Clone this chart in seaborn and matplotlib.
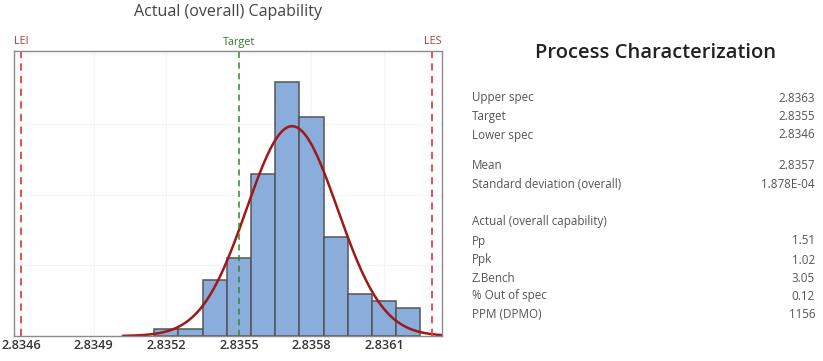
import matplotlib
matplotlib.use("Agg")
import matplotlib.pyplot as plt
import numpy as np
import pandas as pd
import seaborn as sns

# histogram (bin edges every 0.0001)
bin_edges = [2.83515, 2.83525, 2.83535, 2.83545, 2.83555, 2.83565,
             2.83575, 2.83585, 2.83595, 2.83605, 2.83615, 2.83625]
bin_counts = [1, 1, 8, 11, 23, 36, 31, 14, 6, 5, 4]

lsl = 2.8346
target = 2.8355
usl = 2.8363
fit_mean = 2.83572
fit_sd = 1.878e-4
curve_range = (2.83502, 2.83634)

x_ticks = [2.8346, 2.8349, 2.8352, 2.8355, 2.8358, 2.8361]
x_tick_labels = ["2.8346", "2.8349", "2.8352", "2.8355", "2.8358", "2.8361"]

stat_labels = ["Upper spec", "Target", "Lower spec",
               "Mean", "Standard deviation (overall)",
               "Actual (overall capability)", "Pp", "Ppk", "Z.Bench",
               "% Out of spec", "PPM (DPMO)"]
stat_values = ["2.8363", "2.8355", "2.8346",
               "2.8357", "1.878E-04",
               "", "1.51", "1.02", "3.05", "0.12", "1156"]

W, H = 823, 361

sns.set_theme(style="white")
plt.rcParams["font.family"] = ["Open Sans", "DejaVu Sans"]

fig = plt.figure(figsize=(W / 100, H / 100), dpi=100)
ax = fig.add_axes([14 / W, 25 / H, 428 / W, 285 / H])

centers = [(a + b) / 2 for a, b in zip(bin_edges[:-1], bin_edges[1:])]
hist_df = pd.DataFrame({"value": centers, "count": bin_counts})
sns.histplot(data=hist_df, x="value", weights="count", bins=bin_edges,
             color="#84a9db", alpha=0.95, edgecolor="#555555", linewidth=1.1, ax=ax)

# fitted normal curve scaled to counts
n_total = sum(bin_counts)
bw = bin_edges[1] - bin_edges[0]
xs = np.linspace(curve_range[0], curve_range[1], 300)
ys = n_total * bw * np.exp(-0.5 * ((xs - fit_mean) / fit_sd) ** 2) / (fit_sd * np.sqrt(2 * np.pi))
sns.lineplot(x=xs, y=ys, color="#a01818", linewidth=1.8, ax=ax)

ax.axvline(lsl, color="#e0453f", linestyle=(0, (4, 3)), linewidth=1.3)
ax.axvline(usl, color="#e0453f", linestyle=(0, (4, 3)), linewidth=1.3)
ax.axvline(target, color="#2e8b2e", linestyle=(0, (4, 3)), linewidth=1.1)

ax.set_xlim(2.83457, 2.83634)
ax.set_ylim(0, 40.4)
ax.set_xticks(x_ticks)
ax.set_xticklabels(x_tick_labels, fontsize=9.2, color="#333333", fontweight="semibold")
ax.set_yticks([10, 20, 30, 40])
ax.set_yticklabels([])
ax.tick_params(axis="both", length=0, pad=2)
ax.set_xlabel("")
ax.set_ylabel("")
ax.grid(True, color="#f4f4f4", linewidth=0.8)
ax.set_axisbelow(True)
for sp in ax.spines.values():
    sp.set_color("#8a8a8a")
    sp.set_linewidth(1.0)

tr = ax.get_xaxis_transform()
lbl_y = 1 + 9 / 285
ax.text(lsl, lbl_y, "LEI", color="#b73a3a", fontsize=7.8, ha="center", va="center", transform=tr)
ax.text(target, lbl_y, "Target", color="#2f7a2f", fontsize=7.8, ha="center", va="center", transform=tr)
ax.text(usl, lbl_y, "LES", color="#b73a3a", fontsize=7.8, ha="center", va="center", transform=tr)

fig.text(228 / W, 1 - 12 / H, "Actual (overall) Capability", fontsize=11.5,
         color="#444444", ha="center", va="center")

fig.text(656 / W, 1 - 53 / H, "Process Characterization", fontsize=14.5,
         fontweight="semibold", color="#222222", ha="center", va="center")

row_y = [98, 116.5, 135, 165, 184, 222, 241, 260, 278, 296, 315]
for lab, val, y in zip(stat_labels, stat_values, row_y):
    fig.text(472 / W, 1 - y / H, lab, fontsize=8.4, color="#555555", ha="left", va="center")
    if val:
        fig.text(815 / W, 1 - y / H, val, fontsize=8.4, color="#555555", ha="right", va="center")

fig.savefig("out.png", dpi=100)
